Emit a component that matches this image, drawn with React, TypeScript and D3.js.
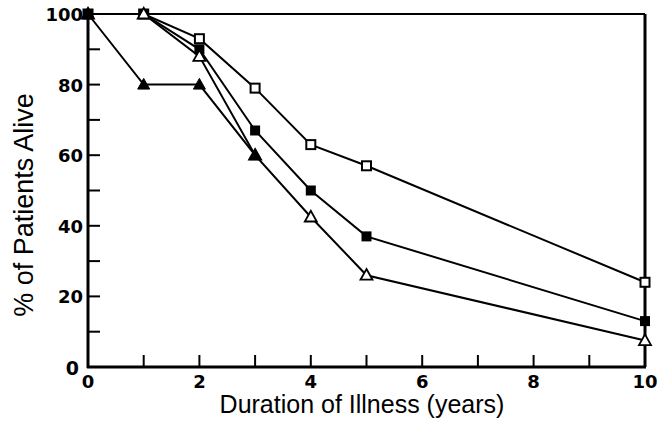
import React from "react";
import * as d3 from "d3";

const years = [0, 1, 2, 3, 4, 5, 10];
const openSquare = [100, 100, 93, 79, 63, 57, 24];
const filledSquare = [100, 100, 90, 67, 50, 37, 13];
const openTriangle = [100, 100, 88, 60, 42.5, 26, 7.5];
const filledTriangleYears = [0, 1, 2, 3];
const filledTriangle = [100, 80, 80, 60];
const xTickLabels = [0, 2, 4, 6, 8, 10];
const yTickLabels = [20, 40, 60, 80, 100];

const W = 661, H = 422;
const left = 88, right = 645, top = 14, bottom = 367;

export default function App() {
  const x = d3.scaleLinear().domain([0, 10]).range([left, right]);
  const y = d3.scaleLinear().domain([0, 100]).range([bottom, top]);
  const line = d3.line<[number, number]>().x(d => x(d[0])).y(d => y(d[1]));
  const mk = (xs: number[], vs: number[]) => xs.map((t, i) => [t, vs[i]] as [number, number]);
  const sA = mk(years, openSquare), sB = mk(years, filledSquare), sC = mk(years, openTriangle), sD = mk(filledTriangleYears, filledTriangle);
  const font = "'Liberation Sans', Arial, sans-serif";
  const tickFont = "'DejaVu Sans', sans-serif";
  const tri = (cx: number, cy: number, s: number) => `M${cx},${cy - s * 0.62}L${cx + s * 0.6},${cy + s * 0.45}L${cx - s * 0.6},${cy + s * 0.45}Z`;
  return (
    <svg width={W} height={H} style={{ position: "absolute", left: 0, top: 0, background: "#fff" }}>
      <line x1={left} x2={right} y1={top} y2={top} stroke="#000" strokeWidth={2} />
      <line x1={right} x2={right} y1={top} y2={bottom} stroke="#000" strokeWidth={3} />
      <line x1={left} x2={left} y1={top} y2={bottom + 1} stroke="#000" strokeWidth={3} />
      <line x1={left - 1} x2={right + 1} y1={bottom} y2={bottom} stroke="#000" strokeWidth={3} />
      {d3.range(1, 10).map(t => (
        <line key={"xt" + t} x1={x(t)} x2={x(t)} y1={bottom} y2={bottom - 12} stroke="#000" strokeWidth={2} />
      ))}
      {d3.range(10, 100, 10).map(t => (
        <line key={"yt" + t} x1={left} x2={left + 12} y1={y(t)} y2={y(t)} stroke="#000" strokeWidth={2} />
      ))}
      {xTickLabels.map(t => (
        <text key={"xl" + t} x={x(t)} y={bottom + 21} textAnchor="middle" fontFamily={tickFont} fontWeight="bold" fontSize={18}>{t}</text>
      ))}
      {yTickLabels.map(t => (
        <text key={"yl" + t} x={left - 5} y={y(t) + 7} textAnchor="end" fontFamily={tickFont} fontWeight="bold" fontSize={18}>{t}</text>
      ))}
      <text x={left - 9} y={bottom + 8} textAnchor="end" fontFamily={tickFont} fontWeight="bold" fontSize={19}>0</text>
      <text x={362} y={413} textAnchor="middle" fontFamily={font} fontSize={25}>Duration of Illness (years)</text>
      <text transform={`translate(33,205) rotate(-90)`} textAnchor="middle" fontFamily={font} fontSize={27}>% of Patients Alive</text>
      {[sA, sB, sC, sD].map((s, i) => (
        <path key={"l" + i} d={line(s) || ""} fill="none" stroke="#000" strokeWidth={2} />
      ))}
      {sA.map((d, i) => (
        <rect key={"a" + i} x={x(d[0]) - 4.5} y={y(d[1]) - 4.5} width={9} height={9} fill="#fff" stroke="#000" strokeWidth={2} />
      ))}
      {sB.map((d, i) => (
        <rect key={"b" + i} x={x(d[0]) - 5} y={y(d[1]) - 5} width={10} height={10} fill="#000" />
      ))}
      {sC.map((d, i) => (
        <path key={"c" + i} d={tri(x(d[0]), y(d[1]), 10)} fill="#fff" stroke="#000" strokeWidth={1.8} />
      ))}
      {sD.map((d, i) => (
        <path key={"d" + i} d={tri(x(d[0]), y(d[1]), 10)} fill="#000" stroke="#000" strokeWidth={1} />
      ))}
    </svg>
  );
}
